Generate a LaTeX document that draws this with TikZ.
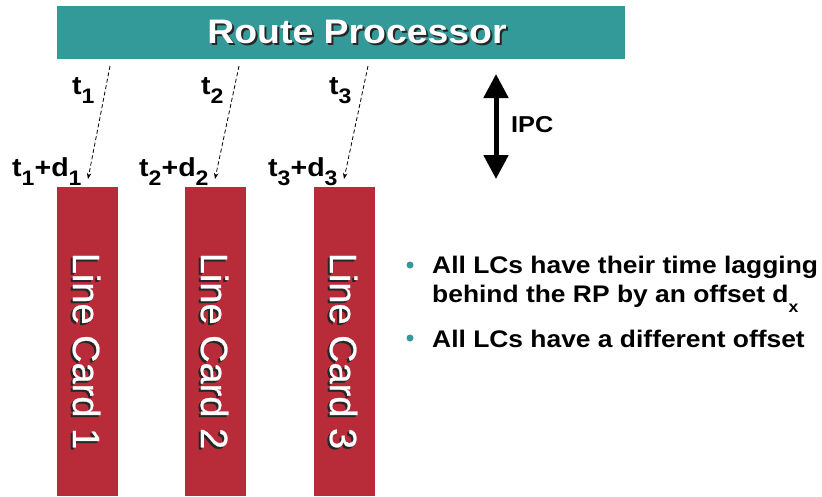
\documentclass[tikz,border=0pt]{standalone}
\usepackage{fontspec}
\setmainfont{Liberation Sans}[FakeStretch=1.1]
\newfontfamily\lcfont{Liberation Sans}[FakeBold=0.6]
\usetikzlibrary{arrows.meta}
\definecolor{rpteal}{RGB}{51,153,153}
\definecolor{lcred}{RGB}{184,44,58}
\newcommand\lsub[1]{\raisebox{-9pt}{\fontsize{21}{21}\selectfont #1}}
\newcommand\xsub[1]{\raisebox{-10pt}{\fontsize{16}{16}\selectfont #1}}
\newcommand\shadowed[1]{\rlap{\hspace{2pt}\raisebox{-2pt}{\color{black!85}#1}}#1}
\tikzset{
  rpbox/.style={fill=rpteal, inner sep=0pt, minimum width=568pt, minimum height=53pt},
  lcbox/.style={fill=lcred, inner sep=0pt, minimum width=61pt, minimum height=309pt},
  rptxt/.style={font=\fontsize{34}{36}\selectfont\bfseries, inner sep=0pt, text=white},
  lctxt/.style={font=\lcfont\fontsize{38}{40}\selectfont, inner sep=0pt, rotate=-90, text=white},
  tlabel/.style={font=\fontsize{26}{28}\selectfont\bfseries, anchor=base west, inner sep=0pt},
  btxt/.style={font=\fontsize{24}{28}\selectfont\bfseries, anchor=base west, inner sep=0pt},
  dasharrow/.style={dash pattern=on 4pt off 2.5pt, line width=0.8pt, -{Stealth[length=6pt,width=4.5pt]}},
  bulletdot/.style={circle, fill=rpteal, inner sep=0pt, minimum size=7pt}
}
\begin{document}
\begin{tikzpicture}[x=1pt,y=-1pt]
\useasboundingbox (0,0) rectangle (822,496);
% Route processor
\node[rpbox] (rp) at (341,32.5) {};
\node[rptxt] (rptext) at (357,33) {\shadowed{Route Processor}};
% line cards
\node[lcbox] (lc1) at (87.5,341.5) {};
\node[lcbox] (lc2) at (215.5,341.5) {};
\node[lcbox] (lc3) at (344.5,341.5) {};
\node[lctxt] (lc1t) at (85.5,351) {\shadowed{Line Card 1}};
\node[lctxt] (lc2t) at (213.5,351) {\shadowed{Line Card 2}};
\node[lctxt] (lc3t) at (342.5,351) {\shadowed{Line Card 3}};
% time labels
\node[tlabel] (t1) at (72,94) {t\lsub{1}};
\node[tlabel] (t2) at (201,94) {t\lsub{2}};
\node[tlabel] (t3) at (329,94) {t\lsub{3}};
\node[tlabel] (td1) at (12,176) {t\lsub{1}+d\lsub{1}};
\node[tlabel] (td2) at (139,176) {t\lsub{2}+d\lsub{2}};
\node[tlabel] (td3) at (268,176) {t\lsub{3}+d\lsub{3}};
% dashed arrows
\coordinate (s1) at (110,66); \coordinate (e1) at (88,179);
\coordinate (s2) at (239,66); \coordinate (e2) at (215,179);
\coordinate (s3) at (368,66); \coordinate (e3) at (344,179);
\draw[dasharrow] (s1) -- (e1);
\draw[dasharrow] (s2) -- (e2);
\draw[dasharrow] (s3) -- (e3);
% IPC arrow
\coordinate (ipctop) at (496,74);
\coordinate (ipcbot) at (496,179);
\draw[line width=5pt, {Triangle[length=24pt,width=24pt]}-{Triangle[length=24pt,width=24pt]}] (ipctop) -- (ipcbot);
\node[font=\fontsize{23}{26}\selectfont\bfseries, anchor=west, inner sep=0pt] (ipc) at (511,125) {IPC};
% bullets
\node[bulletdot] (b1) at (410,265) {};
\node[bulletdot] (b2) at (410,338) {};
\node[btxt] (l1) at (432,273) {All LCs have their time lagging};
\node[btxt] (l2) at (432,302) {behind the RP by an offset d\xsub{x}};
\node[btxt] (l3) at (432,347) {All LCs have a different offset};
\end{tikzpicture}
\end{document}
